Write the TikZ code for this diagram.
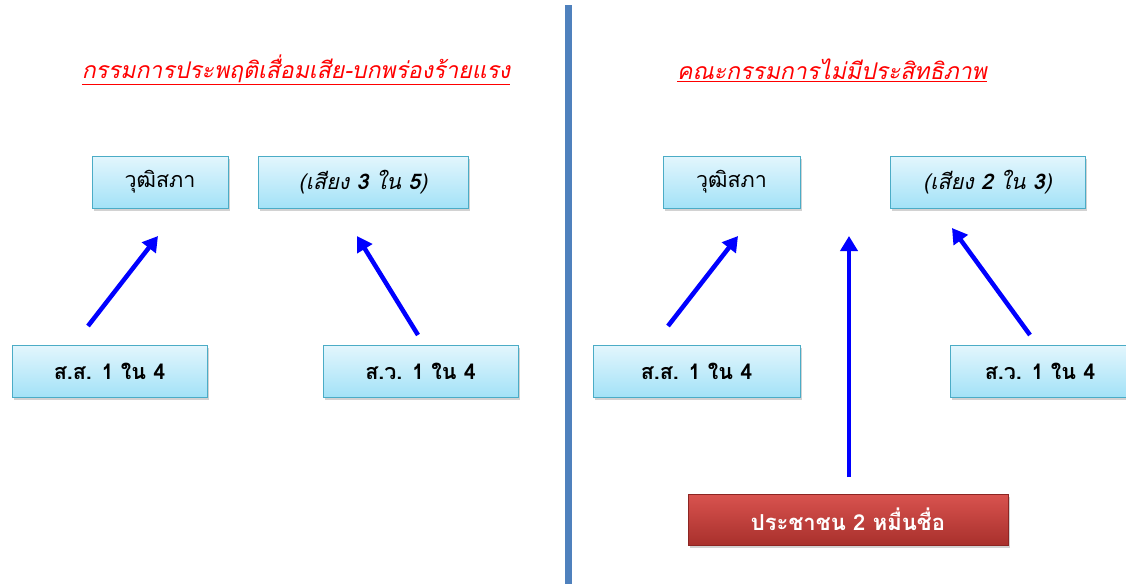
\documentclass[tikz,border=0pt]{standalone}
\usepackage{fontspec}
\newfontfamily\thai[Script=Thai]{Loma}
\usetikzlibrary{shadows,arrows.meta}
\definecolor{boxtop}{HTML}{E3F6FD}
\definecolor{boxbot}{HTML}{A3E2F7}
\definecolor{boxborder}{HTML}{4BACC6}
\definecolor{redtop}{HTML}{D9534F}
\definecolor{redbot}{HTML}{A8302C}
\definecolor{redborder}{HTML}{8C2522}
\definecolor{sepline}{HTML}{4F81BD}
\definecolor{arrowblue}{HTML}{0000FF}
\tikzset{
  cbox/.style={draw=boxborder, line width=0.8pt, top color=boxtop, bottom color=boxbot,
    drop shadow={shadow xshift=1.5pt, shadow yshift=-2.5pt, opacity=0.35},
    minimum height=52pt, inner sep=0pt, font=\thai\fontsize{21.5}{26}\selectfont},
  rbox/.style={draw=redborder, line width=0.8pt, top color=redtop, bottom color=redbot,
    drop shadow={shadow xshift=1.5pt, shadow yshift=-2.5pt, opacity=0.35},
    minimum height=51pt, inner sep=0pt, text=white, font=\thai\bfseries\fontsize{22}{26}\selectfont},
  ttl/.style={text=red, font=\thai\itshape\fontsize{23}{28}\selectfont, inner sep=0pt},
  arr/.style={draw=arrowblue, line width=4.5pt, -{Triangle[length=15pt,width=17pt]}},
}
\begin{document}
\begin{tikzpicture}[x=1pt,y=-1pt]
\useasboundingbox[fill=white] (0,0) rectangle (1126,584);
% separator
\coordinate (s1) at (568,5);
\coordinate (s2) at (568,584);
\draw[line width=7pt, sepline] (s1) -- (s2);
% titles
\node[ttl] (t1) at (296,70) {\underline{กรรมการประพฤติเสื่อมเสีย-บกพร่องร้ายแรง}};
\node[ttl] (t2) at (832,70) {\underline{คณะกรรมการไม่มีประสิทธิภาพ}};
% left boxes
\node[cbox, minimum width=136pt] (l1) at (160,182) {วุฒิสภา};
\node[cbox, minimum width=210pt] (l2) at (363,182) {\itshape(เสียง {\bfseries 3} ใน {\bfseries 5})};
\node[cbox, minimum width=195pt] (l3) at (109.5,371) {\bfseries ส.ส. 1 ใน 4};
\node[cbox, minimum width=195pt] (l4) at (420.5,371) {\bfseries ส.ว. 1 ใน 4};
% right boxes
\node[cbox, minimum width=137pt] (r1) at (731.5,182) {วุฒิสภา};
\node[cbox, minimum width=195pt] (r2) at (987.5,182) {\itshape(เสียง {\bfseries 2} ใน {\bfseries 3})};
\node[cbox, minimum width=207pt] (r3) at (696.5,371) {\bfseries ส.ส. 1 ใน 4};
\node[cbox, minimum width=180pt] (r4) at (1040,371) {\bfseries ส.ว. 1 ใน 4};
\node[rbox, minimum width=320pt] (p) at (848,519.5) {ประชาชน 2 หมื่นชื่อ};
% arrow endpoints
\coordinate (a1s) at (88,326);  \coordinate (a1e) at (158,236);
\coordinate (a2s) at (418,335); \coordinate (a2e) at (357,236);
\coordinate (a3s) at (668,326); \coordinate (a3e) at (738,236);
\coordinate (a4s) at (849,477); \coordinate (a4e) at (849,236);
\coordinate (a5s) at (1030,335); \coordinate (a5e) at (952,228);
\draw[arr] (a1s) -- (a1e);
\draw[arr] (a2s) -- (a2e);
\draw[arr] (a3s) -- (a3e);
\draw[arr] (a4s) -- (a4e);
\draw[arr] (a5s) -- (a5e);
\end{tikzpicture}
\end{document}
